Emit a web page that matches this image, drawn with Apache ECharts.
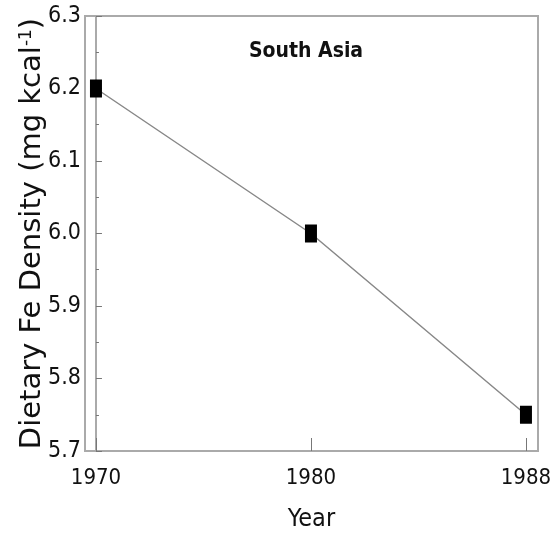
<!DOCTYPE html>
<html>
<head>
<meta charset="utf-8">
<script src="https://cdn.jsdelivr.net/npm/echarts@6/dist/echarts.min.js"></script>
<style>html,body{margin:0;padding:0;background:#fff}#c{width:558px;height:537px}</style>
</head>
<body>
<div id="c"></div>
<script>
const years = [1970, 1980, 1988];
const feDensity = [6.2, 6.0, 5.75];
const yTicks = [5.7, 5.8, 5.9, 6.0, 6.1, 6.2, 6.3];
const panelTitle = 'South Asia';

const narrow = "'Liberation Sans Narrow', 'DejaVu Sans Condensed', sans-serif";
const wide = "'DejaVu Sans', 'Liberation Sans', sans-serif";
const chart = echarts.init(document.getElementById('c'));
const idx = years.map((y, i) => i);
chart.setOption({
  animation: false,
  backgroundColor: '#fff',
  title: {
    text: panelTitle,
    left: 301, top: 36,
    textAlign: 'center',
    textStyle: { fontFamily: narrow, fontSize: 21, fontWeight: 'bold', color: '#111' }
  },
  grid: {
    left: 85, right: 20, top: 16, bottom: 78,
    show: true, borderColor: '#aaa', borderWidth: 2, backgroundColor: '#fff'
  },
  xAxis: {
    type: 'value',
    min: -0.051, max: 2.056,
    name: 'Year',
    nameLocation: 'middle',
    nameGap: 56,
    nameMoveOverlap: false,
    nameTextStyle: { fontFamily: narrow, fontSize: 25, color: '#111' },
    axisLine: { show: true, lineStyle: { color: '#aaa', width: 2 } },
    axisTick: { show: true, inside: true, length: 13, customValues: idx, lineStyle: { color: '#777', width: 1 } },
    axisLabel: {
      customValues: idx,
      formatter: v => years[Math.round(v)],
      fontFamily: narrow, fontSize: 22, color: '#111', margin: 16
    },
    splitLine: { show: false }
  },
  yAxis: {
    type: 'value',
    min: 5.7, max: 6.3, interval: 0.1,
    name: 'Dietary Fe Density (mg kcal{sup|-1})',
    nameLocation: 'middle',
    nameGap: 38,
    nameMoveOverlap: false,
    nameRotate: 90,
    nameTextStyle: {
      fontFamily: wide, fontSize: 29, color: '#111',
      rich: { sup: { fontFamily: wide, fontSize: 17, color: '#111', verticalAlign: 'top', padding: [0, 0, 12, 0] } }
    },
    axisLine: { show: true, lineStyle: { color: '#aaa', width: 2 } },
    axisTick: { show: true, inside: true, length: 6, customValues: yTicks, lineStyle: { color: '#777', width: 1 } },
    minorTick: { show: true, splitNumber: 2, length: 3, lineStyle: { color: '#777', width: 1 } },
    axisLabel: {
      customValues: yTicks,
      formatter: v => v.toFixed(1),
      fontFamily: narrow, fontSize: 23, color: '#111', margin: 4
    },
    splitLine: { show: false }
  },
  series: [{
    type: 'line',
    data: years.map((y, i) => [i, feDensity[i]]),
    symbol: 'rect',
    symbolSize: [12, 18],
    itemStyle: { color: '#000' },
    lineStyle: { color: '#888', width: 1.5 }
  }]
});
</script>
</body>
</html>
